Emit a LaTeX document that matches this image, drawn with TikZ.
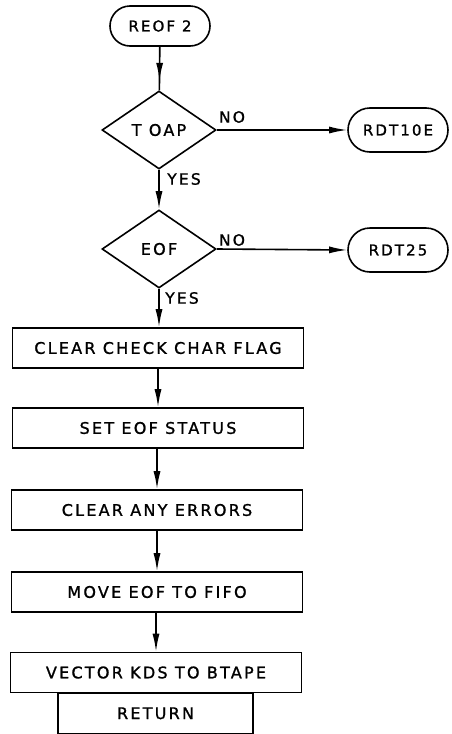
\documentclass[tikz,border=0pt]{standalone}
\usepackage{fontspec}
\newfontfamily\hand[LetterSpace=14, FakeBold=1.2]{DejaVu Sans}
\usetikzlibrary{arrows.meta,shapes.geometric,shapes.misc,decorations.markings}
\begin{document}
\begin{tikzpicture}[x=1pt,y=-1pt,
  every node/.style={font=\hand\fontsize{16}{18}\selectfont, inner sep=0pt, line width=1.6pt},
  term/.style={draw, rounded rectangle, minimum width=100pt, minimum height=40pt, font=\hand\fontsize{15}{16}\selectfont},
  decide/.style={draw, diamond, aspect=1.4, minimum width=114pt, minimum height=78pt},
  procbox/.style={draw, rectangle, minimum width=291pt, minimum height=40pt},
  lbl/.style={font=\hand\fontsize{15.5}{18}\selectfont},
  flow/.style={line width=1.6pt, -{Latex[length=18pt,width=7pt]}},
  midflow/.style={line width=1.6pt, decoration={markings, mark=at position 0.78 with {\arrow{Latex[length=18pt,width=7pt]}}}, postaction={decorate}},
  plain/.style={line width=1.6pt}
]
\useasboundingbox (0,0) rectangle (451,734);
\node[term] (start) at (160,26) {REOF 2};
\node[decide] (d1) at (159,130) {T OAP};
\node[term, minimum height=44pt] (r10) at (398,130) {RDT10E};
\node[decide] (d2) at (159,249) {EOF};
\node[term, minimum height=44pt] (r25) at (398,250) {RDT25};
\node[procbox] (b1) at (158,348) {CLEAR CHECK CHAR FLAG};
\node[procbox] (b2) at (158,428) {SET EOF STATUS};
\node[procbox] (b3) at (157,510) {CLEAR ANY ERRORS};
\node[procbox] (b4) at (157,592) {MOVE EOF TO FIFO};
\node[procbox] (b5) at (156,672.5) {VECTOR KDS TO BTAPE};
\node[draw, rectangle, minimum width=195pt, minimum height=40pt, anchor=north] (ret) at (155.5,692.5) {RETURN};

\draw[midflow] (start) -- (d1);
\draw[flow] (d1.east) -- (r10.west);
\draw[flow] (d1.south) -- (d2.north);
\draw[flow] (d2.east) -- (r25.west);
\draw[flow] (d2.south) -- (b1.north -| d2.south);
\draw[flow] (b1.south -| b2.north) -- (b2.north);
\draw[flow] (b2.south -| b3.north) -- (b3.north);
\draw[flow] (b3.south -| b4.north) -- (b4.north);
\draw[flow] (b4.south -| b5.north) -- (b5.north);

\node[lbl] (no1) at (232,117) {NO};
\node[lbl] (no2) at (232,240) {NO};
\node[lbl] (yes1) at (184,179) {YES};
\node[lbl] (yes2) at (182,298) {YES};
\end{tikzpicture}
\end{document}
